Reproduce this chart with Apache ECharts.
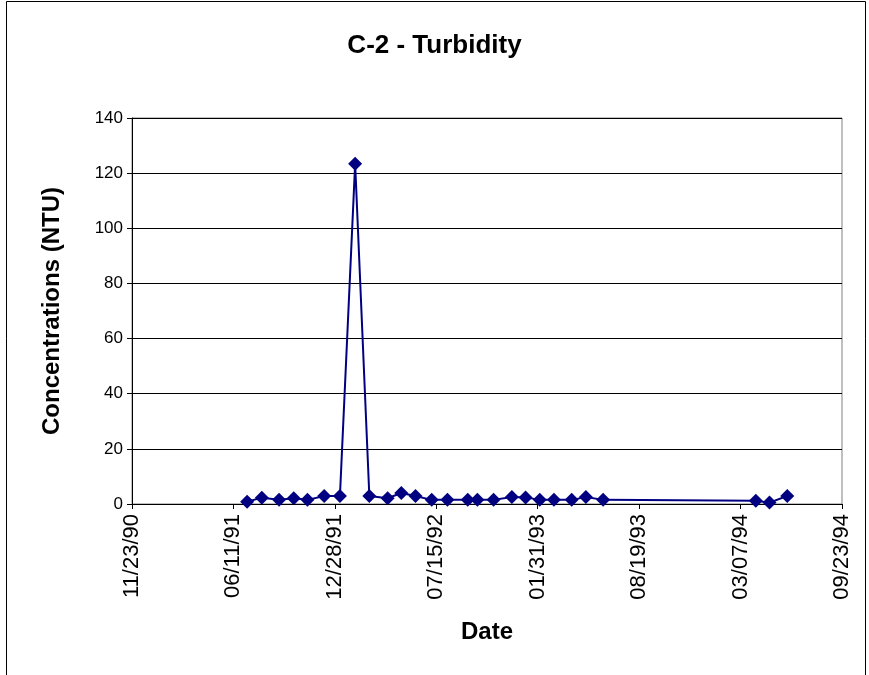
<!DOCTYPE html>
<html><head><meta charset="utf-8">
<script src="https://cdn.jsdelivr.net/npm/echarts@6/dist/echarts.min.js"></script>
<style>html,body{margin:0;padding:0;background:#fff}#c{width:869px;height:675px}</style>
</head><body><div id="c"></div>
<script>
const axisStart = '11/23/90';
const tickLabels = ['11/23/90','06/11/91','12/28/91','07/15/92','01/31/93','08/19/93','03/07/94','09/23/94'];
const sampleDates = ['07/08/91','08/06/91','09/09/91','10/08/91','11/04/91','12/07/91','01/07/92','02/06/92','03/05/92','04/10/92','05/07/92','06/04/92','07/06/92','08/06/92','09/15/92','10/04/92','11/05/92','12/11/92','01/07/93','02/04/93','03/04/93','04/08/93','05/06/93','06/09/93','04/06/94','05/03/94','06/07/94'];
const turbidity = [0.8,2.3,1.5,2.1,1.5,2.9,2.9,123.4,2.9,2.1,4.0,2.9,1.5,1.5,1.5,1.5,1.5,2.5,2.4,1.5,1.5,1.5,2.5,1.5,1.2,0.5,2.9];

function dayNum(s){const p=s.split('/');return Date.UTC(1900+ +p[2], +p[0]-1, +p[1])/86400000;}
const d0 = dayNum(axisStart);
const seriesData = sampleDates.map((d,i)=>[dayNum(d)-d0, turbidity[i]]);

const FF = '"Liberation Sans", Arial, sans-serif';
const chart = echarts.init(document.getElementById('c'), null, {renderer:'canvas'});
chart.setOption({
  animation:false,
  backgroundColor:'#fff',
  title:{text:'C-2 - Turbidity', left:'center', top:28, textStyle:{fontFamily:FF, fontSize:26, fontWeight:'bold', color:'#000'}},
  grid:{left:132, right:27, top:118, bottom:171, show:true, borderColor:'#808080', borderWidth:1},
  xAxis:{type:'value', min:0, max:1400, interval:200,
    name:'Date', nameLocation:'middle', nameGap:116,
    nameTextStyle:{fontFamily:FF, fontSize:24, fontWeight:'bold', color:'#000'},
    axisLine:{show:true, lineStyle:{color:'#000', width:1}},
    axisTick:{show:true, length:5, lineStyle:{color:'#000'}},
    splitLine:{show:false},
    axisLabel:{rotate:90, fontFamily:FF, fontSize:22, color:'#000', margin:10,
      formatter:v=>tickLabels[Math.round(v/200)]}},
  yAxis:{type:'value', min:0, max:140, interval:20,
    name:'Concentrations (NTU)', nameLocation:'middle', nameGap:68, nameRotate:90,
    nameTextStyle:{fontFamily:FF, fontSize:24, fontWeight:'bold', color:'#000'},
    axisLine:{show:true, lineStyle:{color:'#000', width:1}},
    axisTick:{show:true, length:5, lineStyle:{color:'#000'}},
    splitLine:{show:true, lineStyle:{color:'#000', width:1}},
    axisLabel:{fontFamily:FF, fontSize:17, color:'#000', margin:9}},
  graphic:[{type:'rect', shape:{x:6.5, y:1.5, width:859, height:700}, style:{fill:'none', stroke:'#000', lineWidth:1}, silent:true, z:-1}],
  series:[{type:'line', data:seriesData, symbol:'diamond', symbolSize:14,
    itemStyle:{color:'#000080'}, lineStyle:{color:'#000080', width:2}}]
});
</script></body></html>
